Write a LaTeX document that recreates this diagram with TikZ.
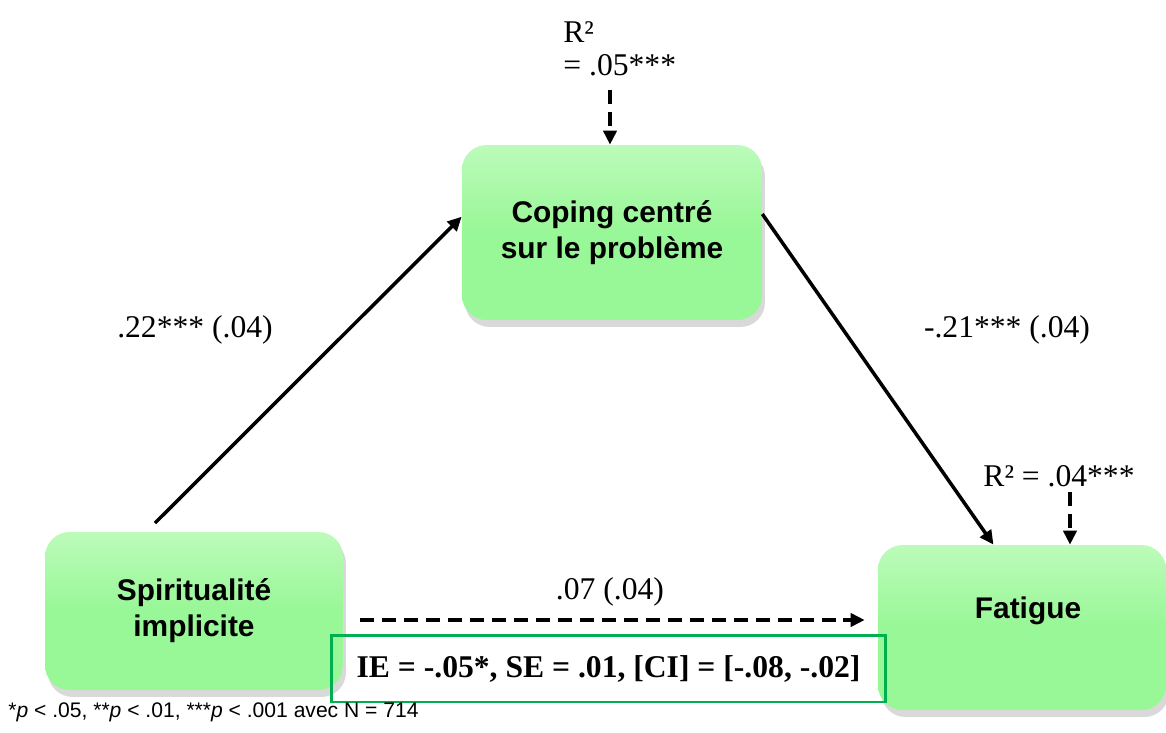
\documentclass[tikz,border=0pt]{standalone}
\usepackage{fontspec}
\setmainfont{Liberation Serif}
\setsansfont{Liberation Sans}
\usetikzlibrary{arrows.meta,shadows}
\definecolor{boxgreen}{RGB}{152,247,150}
\definecolor{boxlight}{RGB}{188,251,186}
\definecolor{iegreen}{RGB}{0,176,80}
\tikzset{
	varbox/.style={rounded corners=14pt, top color=boxlight, bottom color=boxgreen, middle color=boxgreen, drop shadow={opacity=0.3, shadow xshift=0.6mm, shadow yshift=-1.4mm}, font=\sffamily\bfseries\fontsize{17}{20.5}\selectfont, align=center},
	vartext/.style={font=\sffamily\bfseries\fontsize{17}{20.5}\selectfont, align=center},
	coef/.style={font=\fontsize{18}{19}\selectfont, inner sep=0pt},
	solidarrow/.style={line width=2pt, -{Triangle[length=8pt,width=7.5pt]}},
	dasharrow/.style={solidarrow, dash pattern=on 8pt off 4.5pt},
}

\begin{document}
\begin{tikzpicture}[x=0.02cm, y=-0.02cm]
			%%%%% START %%%%%
			\useasboundingbox (0, 0) rectangle (1166, 733);
			
			\node[varbox, minimum width=5.96cm, minimum height=3.16cm] (spirit) at (194, 611) {Spiritualité\\implicite};
			\node[varbox, minimum width=6cm, minimum height=3.5cm] (coping) at (612, 232.5) {Coping centré\\sur le problème};
			\node[varbox, minimum width=5.76cm, minimum height=3.3cm] (fatigue) at (1022, 627.5) {};
			\node[vartext] (fatiguetxt) at (1028, 611) {Fatigue};
			
			\node[coef, anchor=north west, align=left] (r2coping) at (563, 21) {R²\\= .05***};
			\node[coef] (r2fatigue) at (1059, 476) {R² = .04***};
			\coordinate (r2a) at (610, 90);
			\coordinate (r2b) at (1070, 492);
			\draw[dasharrow] (r2a) -- (coping.north -| r2a);
			\draw[dasharrow] (r2b) -- (fatigue.north -| r2b);
			
			\coordinate (a1) at (155, 523);
			\draw[solidarrow] (a1) -- (coping.174.6);
			\node[coef] (patha) at (195, 330) {.22*** (.04)};
			
			\draw[solidarrow] (coping.7.2) -- (fatigue.109.5);
			\node[coef] (pathb) at (1007, 330) {-.21*** (.04)};
			
			\coordinate (d0) at (360, 620);
			\draw[dasharrow, shorten >=0.26cm] (spirit.east |- d0) ++(17, 0) -- (fatigue.west |- d0);
			\node[coef] (pathc) at (610, 592) {.07 (.04)};
			
			\node[draw=iegreen, line width=1.7pt, minimum width=11.1cm, minimum height=1.34cm, font=\bfseries\fontsize{18}{19}\selectfont] (ie) at (608.5, 668.5) {IE = -.05*, SE = .01, [CI] = [-.08, -.02]};
			
			\node[anchor=west, inner sep=0pt, font=\sffamily\fontsize{12}{14}\selectfont] (note) at (8, 712) {*\textit{p} < .05, **\textit{p} < .01, ***\textit{p} < .001 avec N = 714};
			%%%%% END %%%%%
\end{tikzpicture}
\end{document}
